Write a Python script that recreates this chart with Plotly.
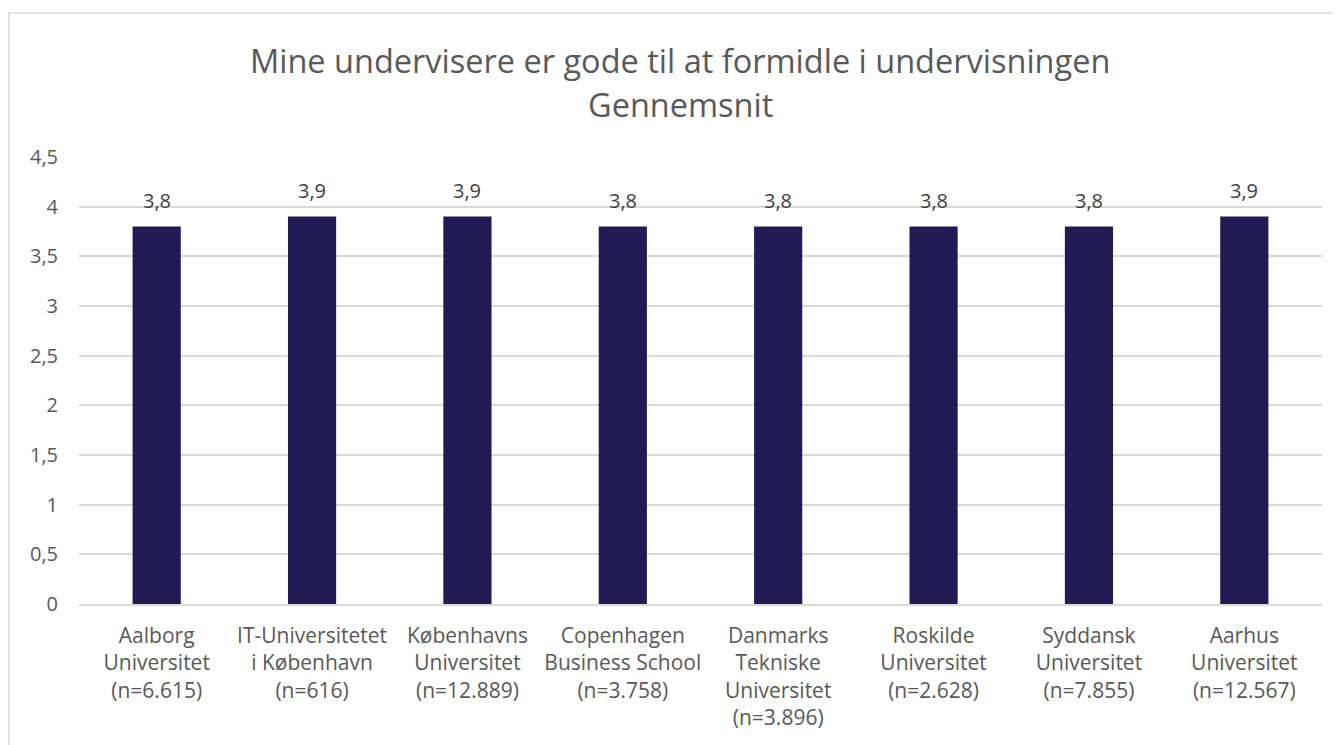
import plotly.graph_objects as go

categories = [
    "Aalborg<br>Universitet<br>(n=6.615)",
    "IT-Universitetet<br>i København<br>(n=616)",
    "Københavns<br>Universitet<br>(n=12.889)",
    "Copenhagen<br>Business School<br>(n=3.758)",
    "Danmarks<br>Tekniske<br>Universitet<br>(n=3.896)",
    "Roskilde<br>Universitet<br>(n=2.628)",
    "Syddansk<br>Universitet<br>(n=7.855)",
    "Aarhus<br>Universitet<br>(n=12.567)",
]
values = [3.8, 3.9, 3.9, 3.8, 3.8, 3.8, 3.8, 3.9]
labels = [f"{v:.1f}".replace(".", ",") for v in values]
title_lines = ["Mine undervisere er gode til at formidle i undervisningen", "Gennemsnit"]

OFF = 8  # page body margin
W, H = 1340 - OFF, 745 - OFF
L, R, T, B = 79 - OFF, 18, 157 - OFF, 141
pw = W - L - R
ph = H - T - B

fig = go.Figure(go.Bar(
    x=categories, y=values,
    marker=dict(color="#221a52", line=dict(width=0)),
    width=0.31,
))

for c, v, t in zip(categories, values, labels):
    fig.add_annotation(x=c, y=v, text=t, showarrow=False, yanchor="bottom",
                       yshift=11, font=dict(size=20, color="#404040"))

# title lines, centred at screen x 680, y 60 and 105
for line, ys in zip(title_lines, [60, 104]):
    fig.add_annotation(xref="paper", yref="paper", x=(680 - 79) / pw, xanchor="center",
                       y=(604 - ys) / ph, yanchor="middle", text=line, showarrow=False,
                       font=dict(size=32.5, color="#595959"))

fig.update_layout(
    width=W, height=H,
    margin=dict(l=L, r=R, t=T, b=B),
    paper_bgcolor="white", plot_bgcolor="white",
    separators=",.",
    font=dict(family="Open Sans, Liberation Sans, sans-serif", color="#595959", size=20),
    showlegend=False,
    xaxis=dict(showgrid=False, showline=True, linecolor="#d9d9d9", linewidth=1.5,
               ticks="", tickfont=dict(size=21, color="#595959"), ticklabelstandoff=12),
    yaxis=dict(range=[0, 4.5], dtick=0.5, tickformat=",.1~f", showgrid=True,
               gridcolor="#d9d9d9", gridwidth=1.5, zeroline=False, showline=False,
               ticks="", tickfont=dict(size=20, color="#595959"), ticklabelstandoff=20),
    shapes=[dict(type="rect", xref="paper", yref="paper",
                 x0=(9 - 79) / pw, x1=(1400 - 79) / pw,
                 y0=(604 - 800) / ph, y1=(604 - 13) / ph,
                 line=dict(color="#d9d9d9", width=1.5), fillcolor="rgba(0,0,0,0)", layer="below")],
)

fig.write_html("out.html")
